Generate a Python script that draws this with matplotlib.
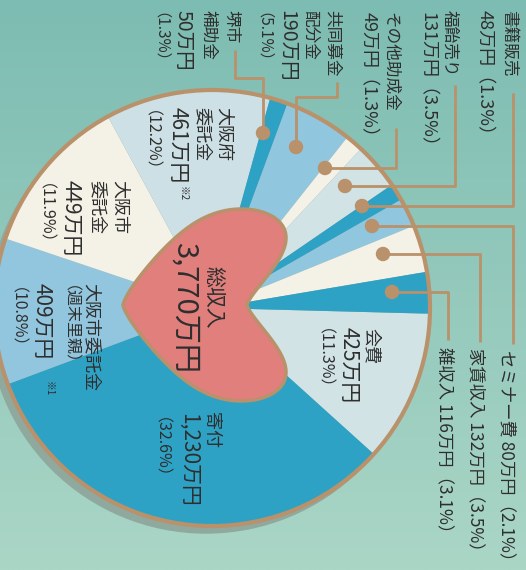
import matplotlib.pyplot as plt
import numpy as np
from matplotlib.colors import LinearSegmentedColormap
from matplotlib.patches import Circle, Polygon

plt.rcParams['font.family'] = ['Noto Sans CJK JP', 'DejaVu Sans']

# income breakdown, clockwise from 会費
names = ['会費', '寄付', '大阪市委託金', '大阪市委託金', '大阪府委託金', '堺市補助金',
         '共同募金配分金', 'その他助成金', '福飴売り', '書籍販売', 'セミナー費',
         '家賃収入', '雑収入']
amounts = [425, 1230, 409, 449, 461, 50, 190, 49, 131, 48, 80, 132, 116]
shares = [11.3, 32.6, 10.8, 11.9, 12.2, 1.3, 5.1, 1.3, 3.5, 1.3, 2.1, 3.5, 3.1]
total = 3770

colors = ['#d1e3e5', '#2ea2c5', '#92c6de', '#f4f1e6', '#cde0e5', '#2ea2c5',
          '#91c6df', '#f4f1e6', '#d1e3e5', '#2ea2c5', '#91c6df', '#f4f1e6',
          '#2ea2c5']

TAN = '#b9916a'
INK = '#2e2e2e'


def yen(i):
    return f'{amounts[i]:,}万円'


def pct(i):
    return f'（{shares[i]}%）'


fig = plt.figure(figsize=(5.26, 5.70), dpi=100)
ax = fig.add_axes([0, 0, 1, 1])

grad = np.linspace(0, 1, 256).reshape(-1, 1)
cmap = LinearSegmentedColormap.from_list('bg', ['#7dbcb2', '#aad6c6'])
ax.imshow(grad, cmap=cmap, extent=(0, 526, 570, 0), aspect='auto', zorder=0)

cx, cy, R = 212, 308, 218
ax.add_patch(Circle((cx - 6, cy + 7), R, color='#8fa99f', zorder=1))
wedges, _ = ax.pie(amounts, colors=colors, center=(cx, cy), radius=R,
                   startangle=1.5, counterclock=True,
                   wedgeprops=dict(linewidth=0))
for w in wedges:
    w.set_zorder(2)
ax.add_patch(Circle((cx, cy), R, fill=False, ec=TAN, lw=3, zorder=3))

# heart in the middle, point to the left (blunted)
t = np.linspace(0, 2 * np.pi, 400)
s = np.sin(t)
hx = np.sign(s) * np.abs(s) ** 1.5
hy = 13 * np.cos(t) - 5 * np.cos(2 * t) - 2 * np.cos(3 * t) - np.cos(4 * t)
hy = (hy - hy.min()) / (hy.max() - hy.min())
heart = np.column_stack([123 + hy * 163, 305 + hx * 96])
ax.add_patch(Polygon(heart, closed=True, fc='#e07f7c', ec=TAN, lw=2.5, zorder=4))

# leader lines for the thin slices
leaders = [
    [(235, 50), (235, 78), (263, 78), (263, 133)],
    [(337, 82), (337, 97), (296, 97), (296, 147)],
    [(396, 128), (396, 168), (325, 168)],
    [(455, 85), (455, 186), (345, 186)],
    [(513, 93), (513, 206), (362, 206)],
    [(513, 344), (513, 226), (372, 226)],
    [(480, 342), (480, 254), (383, 254)],
    [(448, 340), (448, 292), (392, 292)],
]
for pts in leaders:
    xs, ys = zip(*pts)
    ax.plot(xs, ys, color=TAN, lw=2, zorder=5, solid_capstyle='butt')
    ax.add_patch(Circle(pts[-1], 6.5, color=TAN, zorder=6))


def vtext(x, y, s, size):
    # x is the middle of the column, y where reading starts
    em = size * 100 / 72
    base = x - 0.42 * em
    if s.startswith('（'):
        base -= 0.5 * em  # fullwidth paren first shifts the line
    ax.text(base, y, s, rotation=-90, rotation_mode='anchor', ha='left',
            va='baseline', fontsize=size, color=INK, zorder=7)


# outer labels
vtext(511, 10, names[9], 12)
vtext(487, 10, yen(9) + pct(9), 13)
vtext(452, 10, names[8], 12)
vtext(430, 12, yen(8) + pct(8), 13)
vtext(393, 12, names[7], 12)
vtext(371, 12, yen(7) + pct(7), 13)
vtext(335, 10, '共同募金', 12)
vtext(312, 10, '配分金', 12)
vtext(289, 10, yen(6), 14)
vtext(265, 12, pct(6), 11)
vtext(234, 10, '堺市', 12)
vtext(211, 10, '補助金', 12)
vtext(186, 10, yen(5), 14)
vtext(162, 12, pct(5), 11)
vtext(509, 350, names[10] + ' ' + yen(10) + pct(10), 12.5)
vtext(478, 348, names[11] + ' ' + yen(11) + pct(11), 12.5)
vtext(447, 347, names[12] + ' ' + yen(12) + pct(12), 12.5)

# labels inside slices
vtext(226, 107, '大阪府', 13)
vtext(205, 107, '委託金', 13)
vtext(180, 107, yen(4), 15)
vtext(152, 110, pct(4), 11.5)
vtext(184, 186, '※2', 7)
vtext(122, 180, '大阪市', 13)
vtext(100, 180, '委託金', 13)
vtext(73, 180, yen(3), 15)
vtext(46, 183, pct(3), 11.5)
vtext(93, 283, names[2], 13)
vtext(71, 285, '（週末里親）', 11.5)
vtext(44, 283, yen(2), 15)
vtext(18, 287, pct(2), 11.5)
vtext(50, 381, '※1', 7)
vtext(214, 412, names[1], 13)
vtext(191, 413, yen(1), 15)
vtext(162, 417, pct(1), 11.5)
vtext(374, 328, names[0], 13)
vtext(351, 327, yen(0), 15)
vtext(325, 328, pct(0), 11.5)

vtext(216, 266, '総収入', 15)
vtext(189, 242, f'{total:,}万円', 21)

ax.set_xlim(0, 526)
ax.set_ylim(570, 0)
ax.set_aspect('auto')
ax.axis('off')
fig.savefig('out.png', dpi=100)
